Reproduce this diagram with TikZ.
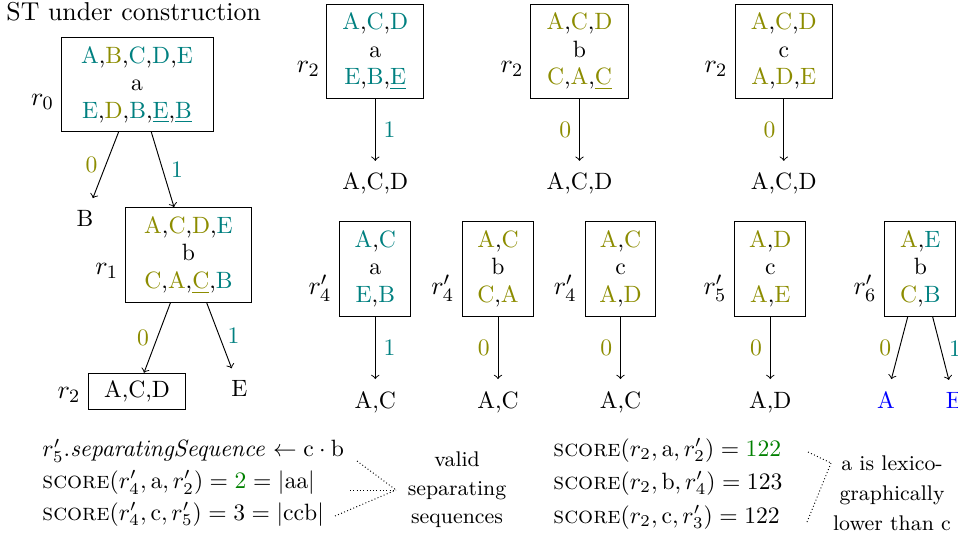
\documentclass[tikz,border=0pt]{standalone}
\usepackage{xcolor}
\definecolor{myteal}{rgb}{0,0.5,0.5}
\definecolor{myolive}{rgb}{0.55,0.55,0}
\definecolor{mygreen}{rgb}{0,0.5,0}
\newcommand{\cT}[1]{\textcolor{myteal}{#1}}
\newcommand{\cO}[1]{\textcolor{myolive}{#1}}
\tikzset{
  stbox/.style={draw, inner sep=0pt, align=center, font=\fontsize{10}{11.65}\selectfont},
  bigbox/.style={stbox, minimum width=64.4pt, minimum height=39.8pt},
  midbox/.style={stbox, minimum width=53pt, minimum height=40.1pt},
  topbox/.style={stbox, minimum width=41.2pt, minimum height=40pt},
  smallbox/.style={stbox, minimum width=30pt, minimum height=40pt},
  flatbox/.style={stbox, minimum width=41.4pt, minimum height=15.3pt},
  leaf/.style={inner sep=4.9pt, anchor=base, font=\fontsize{10}{12}\selectfont},
  rlab/.style={inner sep=0pt, font=\fontsize{10.95}{13}\selectfont},
  elab/.style={font=\fontsize{10}{12}\selectfont},
  conn/.style={->},
  mline/.style={anchor=base west, inner sep=0pt, font=\fontsize{10}{12}\selectfont},
  note/.style={align=center, inner sep=0pt, font=\fontsize{9}{12}\selectfont},
  dots/.style={densely dotted},
  titletext/.style={anchor=base west, inner sep=0pt, font=\fontsize{10.95}{13.6}\selectfont}
}
\begin{document}
\begin{tikzpicture}[x=0.4237pt, y=-0.4237pt]
\useasboundingbox (0,0) rectangle (958,542);
\clip (0,0) rectangle (958,542);

\node[titletext] (title) at (6,20.7) {ST under construction};

% left tree
\node[bigbox] (r0) at (137,84.7) {\cT{A},\cO{B},\cT{C},\cT{D},\cT{E}\\a\\\cT{E},\cO{D},\cT{B},\cT{\underline{E}},\cT{\underline{B}}};
\node[rlab] (lr0) at (42.5,102) {$r_0$};
\node[leaf] (B) at (85,226.4) {B};
\node[midbox] (r1) at (188.5,255) {\cO{A},\cO{C},\cO{D},\cT{E}\\b\\\cO{C},\cO{A},\cO{\underline{C}},\cT{B}};
\node[rlab] (lr1) at (106.7,270.5) {$r_1$};
\node[flatbox] (r2b) at (137,391.3) {A,C,D};
\node[rlab] (lr2b) at (69,395) {$r_2$};
\node[leaf] (E) at (239.3,396.4) {E};
\draw[conn] (r0) -- node[elab,left]{\cO{0}} (B);
\draw[conn] (r0) -- node[elab,right]{\cT{1}} (r1);
\draw[conn] (r1) -- node[elab,left]{\cO{0}} (r2b);
\draw[conn] (r1) -- node[elab,right]{\cT{1}} (E);

% top row
\node[topbox] (ta) at (375.3,51.2) {\cT{A},\cT{C},\cT{D}\\a\\\cT{E},\cT{B},\cT{\underline{E}}};
\node[rlab] (lta) at (308.3,69) {$r_2$};
\node[leaf] (la) at (375.3,189.8) {A,C,D};
\draw[conn] (ta) -- node[elab,right]{\cT{1}} (la);

\node[topbox] (tb) at (579.5,51.2) {\cO{A},\cO{C},\cO{D}\\b\\\cO{C},\cO{A},\cO{\underline{C}}};
\node[rlab] (ltb) at (512,69) {$r_2$};
\node[leaf] (lb) at (579.5,189.8) {A,C,D};
\draw[conn] (tb) -- node[elab,left]{\cO{0}} (lb);

\node[topbox] (tc) at (783.8,51.2) {\cO{A},\cO{C},\cO{D}\\c\\\cO{A},\cO{D},\cO{E}};
\node[rlab] (ltc) at (716,69) {$r_2$};
\node[leaf] (lc) at (783.8,189.8) {A,C,D};
\draw[conn] (tc) -- node[elab,left]{\cO{0}} (lc);

% bottom row
\node[smallbox] (sa) at (375.3,268.8) {\cT{A},\cT{C}\\a\\\cT{E},\cT{B}};
\node[rlab] (lsa) at (320,288) {$r'_4$};
\node[leaf] (lsaa) at (375.3,408) {A,C};
\draw[conn] (sa) -- node[elab,right]{\cT{1}} (lsaa);

\node[smallbox] (sb) at (498,268.8) {\cO{A},\cO{C}\\b\\\cO{C},\cO{A}};
\node[rlab] (lsb) at (442.7,288) {$r'_4$};
\node[leaf] (lsbb) at (498,408) {A,C};
\draw[conn] (sb) -- node[elab,left]{\cO{0}} (lsbb);

\node[smallbox] (sc) at (620.5,268.8) {\cO{A},\cO{C}\\c\\\cO{A},\cO{D}};
\node[rlab] (lsc) at (565.2,288) {$r'_4$};
\node[leaf] (lscc) at (620.5,408) {A,C};
\draw[conn] (sc) -- node[elab,left]{\cO{0}} (lscc);

\node[smallbox] (sd) at (770.3,268.8) {\cO{A},\cO{D}\\c\\\cO{A},\cO{E}};
\node[rlab] (lsd) at (715,288) {$r'_5$};
\node[leaf] (lsdd) at (770.3,408) {A,D};
\draw[conn] (sd) -- node[elab,left]{\cO{0}} (lsdd);

\node[smallbox] (se) at (920.3,268.8) {\cO{A},\cT{E}\\b\\\cO{C},\cT{B}};
\node[rlab] (lse) at (865,288) {$r'_6$};
\node[leaf, text=blue] (lseA) at (886,408) {A};
\node[leaf, text=blue] (lseE) at (954,408) {E};
\draw[conn] (se) -- node[elab,left]{\cO{0}} (lseA);
\draw[conn] (se) -- node[elab,right]{\cT{1}} (lseE);

% bottom annotations
\node[mline] (s1) at (42,456.7) {$r'_5.\mathit{separatingSequence} \leftarrow \mathrm{c}\cdot\mathrm{b}$};
\node[mline] (s2) at (42,488.3) {\textsc{score}$(r'_4,\mathrm{a},r'_2) = \textcolor{mygreen}{2} = |\mathrm{aa}|$};
\node[mline] (s3) at (42,520) {\textsc{score}$(r'_4,\mathrm{c},r'_5) = 3 = |\mathrm{ccb}|$};
\node[note] (valid) at (457,490) {valid\\separating\\sequences};
\coordinate (d1) at (357,461);
\coordinate (d2) at (350,490);
\coordinate (d3) at (335,516);
\coordinate (vin) at (396,490);
\draw[dots] (d1) -- (vin);
\draw[dots] (d2) -- (vin);
\draw[dots] (d3) -- (vin);

\node[mline] (q1) at (553,456) {\textsc{score}$(r_2,\mathrm{a},r'_2) = \textcolor{mygreen}{122}$};
\node[mline] (q2) at (553,489) {\textsc{score}$(r_2,\mathrm{b},r'_4) = 123$};
\node[mline] (q3) at (553,523) {\textsc{score}$(r_2,\mathrm{c},r'_3) = 122$};
\node[note, font=\fontsize{9}{12.7}\selectfont] (lex) at (892,493) {a is lexico-\\graphically\\lower than c};
\coordinate (e1) at (808,452);
\coordinate (e3) at (807,522);
\coordinate (lin) at (831,463);
\draw[dots] (e1) -- (lin);
\draw[dots] (e3) -- (lin);
\end{tikzpicture}
\end{document}
